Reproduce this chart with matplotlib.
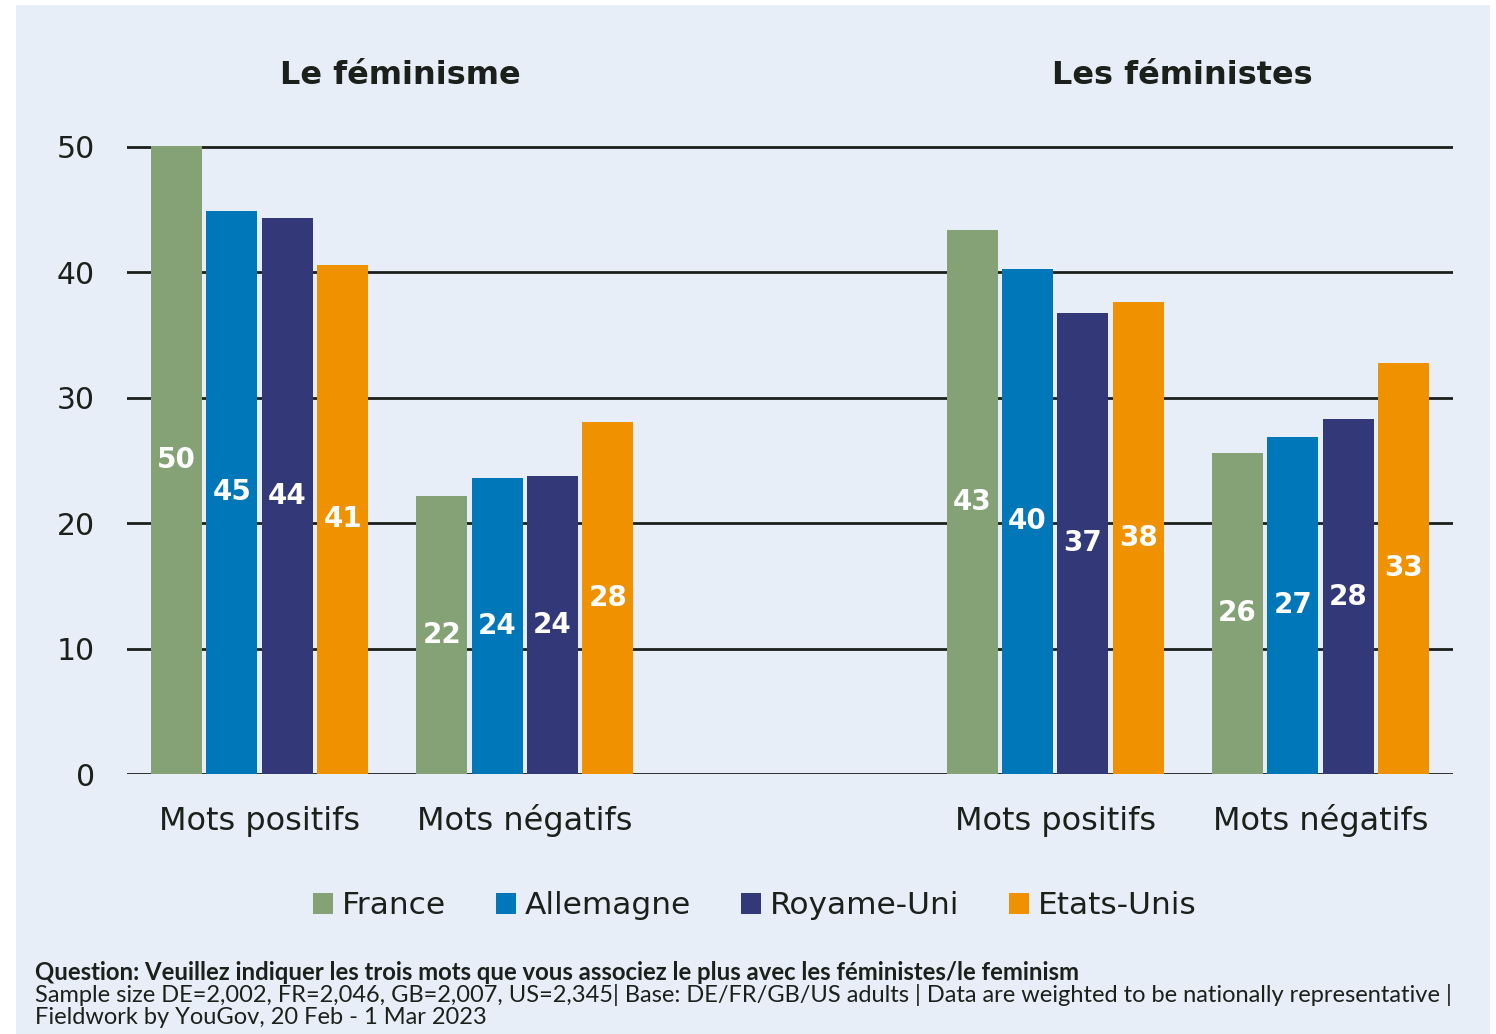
import numpy as np
import matplotlib
matplotlib.use("Agg")
from matplotlib import pyplot as plt
from matplotlib.patches import Rectangle
from matplotlib.transforms import blended_transform_factory

plt.rcParams['font.family'] = ['DejaVu Sans']

# groups: Le feminisme (pos, neg), Les feministes (pos, neg)
categories = ["Mots positifs", "Mots négatifs", "Mots positifs", "Mots négatifs"]
panel_titles = ["Le féminisme", "Les féministes"]
countries = ["France", "Allemagne", "Royame-Uni", "Etats-Unis"]

france = [50.1, 22.2, 43.4, 25.6]
allemagne = [44.9, 23.6, 40.3, 26.9]
royaume_uni = [44.3, 23.8, 36.8, 28.3]
etats_unis = [40.6, 28.1, 37.6, 32.8]

yticks = [0, 10, 20, 30, 40, 50]

colors = ["#84A276", "#0077B8", "#333978", "#F09100"]
bg = "#E8EEF8"
ink = "#1B201B"
foot_font = "Lato"

W, H = 1496, 1034
fig = plt.figure(figsize=(W / 100, H / 100), dpi=100)
fig.patch.set_facecolor("white")
fig.patches.append(Rectangle((16 / W, 0), (1490 - 16) / W, (H - 5) / H,
                             transform=fig.transFigure, facecolor=bg,
                             edgecolor="none", zorder=-10))

ax = fig.add_axes([127 / W, 260 / H, (1453 - 127) / W, (912.1 - 260) / H])
ax.set_facecolor("none")

xpos = np.array([0, 1, 3, 4])
step = 0.209
width = 0.192
series = [france, allemagne, royaume_uni, etats_unis]
for i, (name, vals, c) in enumerate(zip(countries, series, colors)):
    x = xpos + (i - 1.5) * step
    ax.bar(x, vals, width=width, color=c, label=name, zorder=3)
    for xi, v in zip(x, vals):
        ax.text(xi, v / 2, "%.0f" % v, ha="center", va="center",
                color="white", fontsize=20, fontweight="bold", zorder=4)

ax.set_xlim(-0.5, 4.5)
ax.set_ylim(0, 52)
ax.set_yticks(yticks)
ax.set_xticks(xpos, categories)
ax.yaxis.grid(True, color=ink, lw=2)
ax.set_axisbelow(True)
for s in ax.spines.values():
    s.set_visible(False)
ax.tick_params(axis="y", length=0, pad=23, labelsize=21.5, labelcolor=ink)
ax.tick_params(axis="x", length=0, pad=40, labelsize=23, labelcolor=ink)
for lab in ax.get_xticklabels():
    lab.set_verticalalignment("baseline")

tr = blended_transform_factory(ax.transData, fig.transFigure)
for xc, t in zip([0.53, 3.48], panel_titles):
    ax.text(xc, 1 - 76 / H, t, transform=tr, ha="center", va="center",
            fontsize=23, fontweight="bold", color=ink)

fig.legend(loc="center", bbox_to_anchor=(755 / W, 1 - 906 / H), ncol=4,
           frameon=False, fontsize=22.5, handlelength=0.62, handleheight=0.62,
           handletextpad=0.3, columnspacing=1.6, labelcolor=ink)

fig.text(35 / W, 1 - 972 / H,
         "Question: Veuillez indiquer les trois mots que vous associez le plus avec les féministes/le feminism",
         ha="left", va="center", fontsize=17.2, fontweight="bold", color=ink,
         family=foot_font)
fig.text(35 / W, 1 - 995 / H,
         "Sample size DE=2,002, FR=2,046, GB=2,007, US=2,345| Base: DE/FR/GB/US adults | Data are weighted to be nationally representative |",
         ha="left", va="center", fontsize=17, color=ink, family=foot_font)
fig.text(35 / W, 1 - 1018 / H, "Fieldwork by YouGov, 20 Feb - 1 Mar 2023",
         ha="left", va="center", fontsize=17, color=ink, family=foot_font)

fig.savefig("out.png", dpi=100)
